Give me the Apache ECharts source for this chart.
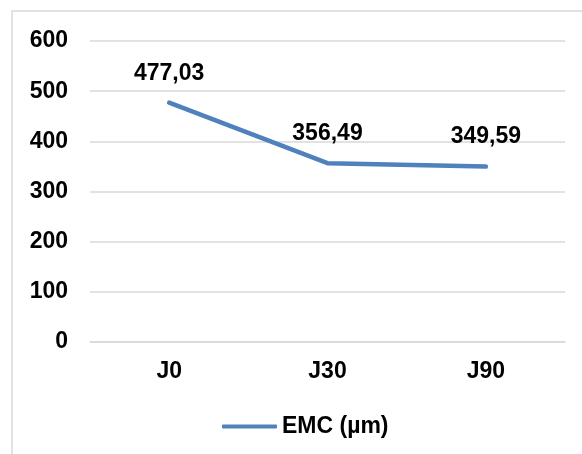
<!DOCTYPE html>
<html>
<head>
<meta charset="utf-8">
<script src="https://cdn.jsdelivr.net/npm/echarts@6/dist/echarts.min.js"></script>
<style>
  html, body { margin: 0; padding: 0; background: #fff; }
  #chart { width: 582px; height: 454px; }
</style>
</head>
<body>
<div id="chart"></div>
<script>
// Mesures EMC par jour de suivi
const categories = ['J0', 'J30', 'J90'];
const emcValues = [477.03, 356.49, 349.59];
const seriesName = 'EMC (µm)';
const yTicks = { min: 0, max: 600, interval: 100 };

const FONT = '"Liberation Sans", Arial, sans-serif';
const FS = 23;
const chart = echarts.init(document.getElementById('chart'), null, { renderer: 'canvas' });

chart.setOption({
  backgroundColor: '#ffffff',
  animation: false,
  graphic: [{
    type: 'rect',
    shape: { x: 12, y: 11, width: 620, height: 500 },
    style: { fill: 'none', stroke: '#d9d9d9', lineWidth: 1.5 },
    silent: true,
    z: -1
  }],
  grid: { left: 90, right: 17, top: 41, bottom: 112, containLabel: false },
  legend: {
    left: 217,
    top: 410,
    itemWidth: 55,
    itemHeight: 4,
    itemGap: 10,
    textStyle: { fontFamily: FONT, fontSize: FS, fontWeight: 'bold', color: '#000' },
    data: [{ name: seriesName, icon: 'roundRect' }]
  },
  xAxis: {
    type: 'category',
    data: categories,
    boundaryGap: true,
    axisLine: { show: true, lineStyle: { color: '#d9d9d9', width: 1.5 } },
    axisTick: { show: false },
    axisLabel: { margin: 18, fontFamily: FONT, fontSize: FS, fontWeight: 'bold', color: '#000' }
  },
  yAxis: {
    type: 'value',
    min: yTicks.min,
    max: yTicks.max,
    interval: yTicks.interval,
    axisLine: { show: false },
    axisTick: { show: false },
    splitLine: { lineStyle: { color: '#d9d9d9', width: 1.5 } },
    axisLabel: { margin: 22, fontFamily: FONT, fontSize: FS, fontWeight: 'bold', color: '#000' }
  },
  series: [{
    name: seriesName,
    type: 'line',
    data: emcValues,
    symbol: 'circle',
    symbolSize: 0,
    showSymbol: true,
    lineStyle: { color: '#4f81bd', width: 4.5, cap: 'round', join: 'round' },
    itemStyle: { color: '#4f81bd' },
    label: {
      show: true,
      position: 'top',
      distance: 18,
      fontFamily: FONT,
      fontSize: FS,
      fontWeight: 'bold',
      color: '#000',
      formatter: p => Number(p.value).toFixed(2).replace('.', ',')
    }
  }]
});
</script>
</body>
</html>
